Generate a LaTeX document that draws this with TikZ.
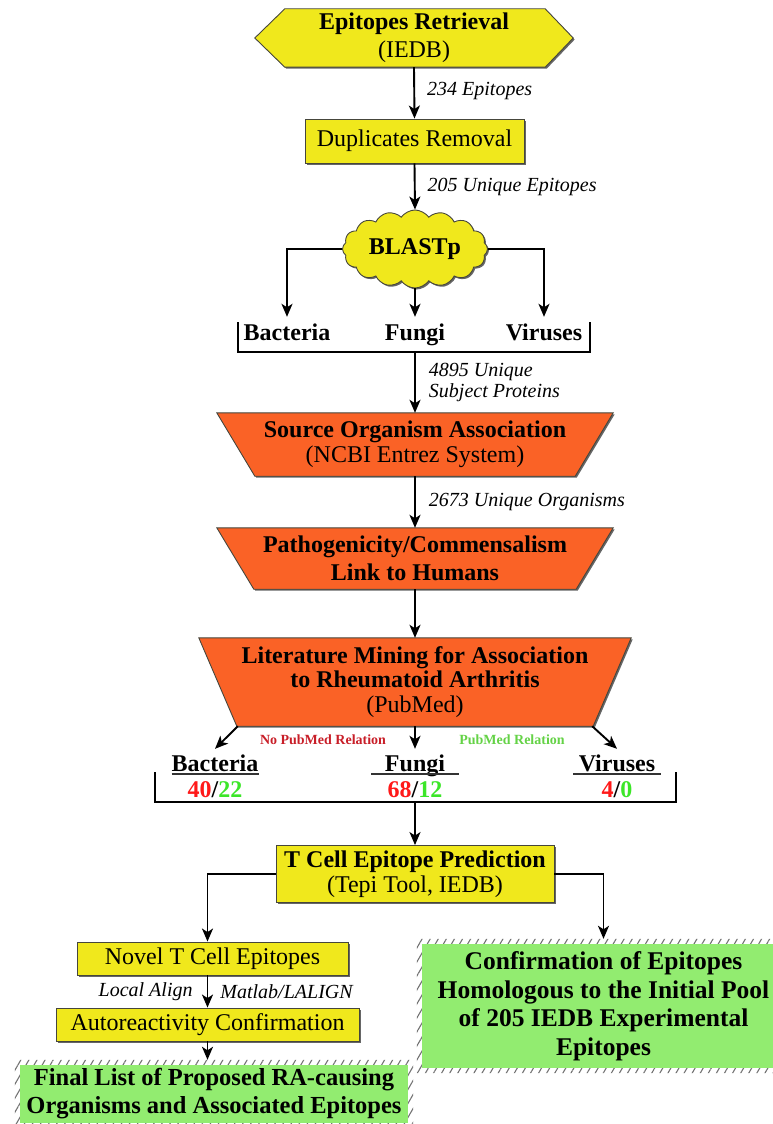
\documentclass[tikz,border=0pt]{standalone}
\usepackage{fontspec}
\setmainfont{Liberation Serif}
\usetikzlibrary{arrows.meta,shapes.symbols,patterns.meta,calc,shadows}
\pgfdeclarelayer{bg}
\pgfsetlayers{bg,main}
\definecolor{yel}{RGB}{240,232,28}
\definecolor{org}{RGB}{250,98,38}
\definecolor{grn}{RGB}{146,236,112}
\definecolor{dred}{RGB}{200,30,40}
\definecolor{lgrn}{RGB}{100,210,70}
\definecolor{bred}{RGB}{255,25,25}
\definecolor{bgrn}{RGB}{60,230,40}
\definecolor{edge}{RGB}{70,70,60}
\tikzset{
  big/.style={font=\fontsize{24}{28}\selectfont},
  lab/.style={font=\itshape\fontsize{20}{21}\selectfont, anchor=west, inner sep=0pt},
  conn/.style={line width=1.9pt, black},
  arr/.style={conn, -{Stealth[length=13pt,width=11pt,inset=3.5pt]}},
  dshadow/.style={drop shadow={shadow xshift=1.5pt,shadow yshift=-1.5pt,opacity=1,fill=black!60}},
  ybox/.style={rectangle, fill=yel, draw=edge, line width=0.9pt, dshadow, align=center, inner sep=0pt},
  plain/.style={rectangle, inner sep=0pt, align=center},
  shp/.style={draw=edge, line width=0.9pt},
  cat/.style={font=\bfseries\fontsize{24}{28}\selectfont, text height=17pt, text depth=5pt, inner xsep=0pt, inner ysep=6pt},
  cattwo/.style={cat, inner ysep=5pt},
  num/.style={font=\bfseries\fontsize{24}{28}\selectfont, inner sep=0pt},
  sub/.style={font=\bfseries\fontsize{14}{16}\selectfont, inner sep=0pt},
  uline/.style={line width=1.2pt, black!80},
  hatch/.style={pattern={Lines[angle=60,distance=7pt,line width=1.1pt]}, pattern color=black!55},
}
\begin{document}
\begin{tikzpicture}[x=1pt,y=-1pt]
\useasboundingbox (0,0) rectangle (773,1124);
\clip (0,0) rectangle (773,1124);

% ---------- nodes ----------
\node[plain, big, minimum width=318pt, minimum height=58pt] (epi) at (414,38)
  {\textbf{Epitopes Retrieval}\\(IEDB)};
\node[ybox, big, minimum width=219pt, minimum height=44pt] (dup) at (414.5,141) {Duplicates Removal};
\node[cloud, cloud puffs=16, cloud puff arc=110, cloud ignores aspect, minimum width=145pt,
      minimum height=78pt, inner sep=0pt, fill=yel, draw=edge, line width=0.9pt, dshadow,
      font=\bfseries\fontsize{24}{28}\selectfont] (blast) at (415,249) {BLASTp};
\node[cat] (bac1) at (287,334) {Bacteria};
\node[cat] (fun1) at (415,334) {Fungi};
\node[cat] (vir1) at (544,334) {Viruses};
\coordinate (brA) at (238,322);
\coordinate (brB) at (590,322);
\coordinate (br1) at (415,352);

\node[plain, minimum width=396pt, minimum height=63pt, font=\fontsize{24}{25}\selectfont] (src) at (415,444.5)
  {\textbf{Source Organism Association}\\(NCBI Entrez System)};
\node[plain, minimum width=396pt, minimum height=61pt, font=\bfseries\fontsize{24}{28}\selectfont] (pat) at (415,558.5)
  {Pathogenicity/Commensalism\\Link to Humans};
\node[plain, minimum width=432pt, minimum height=88pt, font=\fontsize{24}{24.5}\selectfont] (lit) at (415,682)
  {\textbf{Literature Mining for Association}\\\textbf{to Rheumatoid Arthritis}\\(PubMed)};

\node[sub, text=dred] (nopm) at (323,740) {No PubMed Relation};
\node[sub, text=lgrn] (pm) at (512,740) {PubMed Relation};
\node[cattwo] (bac2) at (215,765) {Bacteria};
\node[cattwo] (fun2) at (415,765) {Fungi};
\node[cattwo] (vir2) at (617,765) {Viruses};
\node[num] (bacn) at (215,790) {\textcolor{bred}{40}/\textcolor{bgrn}{22}};
\node[num] (funn) at (415,790) {\textcolor{bred}{68}/\textcolor{bgrn}{12}};
\node[num] (virn) at (617,790) {\textcolor{bred}{4}/\textcolor{bgrn}{0}};
\coordinate (brC) at (155,772);
\coordinate (brD) at (676,772);
\coordinate (br2) at (415,802);

\node[ybox, minimum width=278pt, minimum height=57pt, font=\fontsize{24}{25}\selectfont] (tcell) at (415,874)
  {\textbf{T Cell Epitope Prediction}\\(Tepi Tool, IEDB)};
\node[ybox, big, minimum width=271pt, minimum height=33pt] (novel) at (212.5,958.5) {Novel T Cell Epitopes};
\node[ybox, big, minimum width=303pt, minimum height=33pt] (auto) at (207.5,1024.5) {Autoreactivity Confirmation};
\node[plain, minimum width=398pt, minimum height=68pt, font=\bfseries\fontsize{24.5}{28}\selectfont] (final) at (214,1094)
  {Final List of Proposed RA-causing\\Organisms and Associated Epitopes};
\node[plain, minimum width=373pt, minimum height=134pt, font=\bfseries\fontsize{25.5}{28.5}\selectfont] (conf) at (603.5,1006)
  {Confirmation of Epitopes\\Homologous to the Initial Pool\\of 205 IEDB Experimental\\Epitopes};

% ---------- shapes behind ----------
\begin{pgfonlayer}{bg}
  \path[fill=yel, shp, dshadow] (epi.west) -- ($(epi.north west)+(30,0)$) -- ($(epi.north east)+(-28,0)$)
    -- (epi.east) -- ($(epi.south east)+(-28,0)$) -- ($(epi.south west)+(30,0)$) -- cycle;
  \path[fill=org, shp, dshadow] (src.north west) -- (src.north east) -- ($(src.south east)+(-38,0)$)
    -- ($(src.south west)+(38,0)$) -- cycle;
  \path[fill=org, shp, dshadow] (pat.north west) -- (pat.north east) -- ($(pat.south east)+(-37,0)$)
    -- ($(pat.south west)+(37,0)$) -- cycle;
  \path[fill=org, shp, dshadow] (lit.north west) -- (lit.north east) -- ($(lit.south east)+(-38,0)$)
    -- ($(lit.south west)+(38,0)$) -- cycle;
  \fill[hatch, even odd rule] (final.north west) rectangle (final.south east)
    ($(final.north west)+(5,5)$) rectangle ($(final.south east)+(-5,-5)$);
  \fill[grn] ($(final.north west)+(5,5)$) rectangle ($(final.south east)+(-5,-5)$);
  \fill[hatch, even odd rule] (conf.north west) rectangle (conf.south east)
    ($(conf.north west)+(5,5)$) rectangle ($(conf.south east)+(-5,-5)$);
  \fill[grn] ($(conf.north west)+(5,5)$) rectangle ($(conf.south east)+(-5,-5)$);
\end{pgfonlayer}

% ---------- underlines ----------
\draw[uline] ($(bac2.base)+(-43.5,3)$) -- ++(87,0);
\draw[uline] ($(fun2.base)+(-44,3)$) -- ++(88,0);
\draw[uline] ($(vir2.base)+(-44,3)$) -- ++(88,0);

% ---------- connectors ----------
\draw[arr] (epi.south) -- (dup.north) node[lab, midway, xshift=12pt, yshift=2pt] {234 Epitopes};
\draw[arr] (dup.south) -- (blast.north) node[lab, midway, xshift=12pt] {205 Unique Epitopes};
\draw[arr] (blast.west) -| (bac1.north);
\draw[arr] (blast.east) -| (vir1.north);
\draw[arr] (blast.south) -- (fun1.north);
\draw[conn] (brA) |- (br1) -| (brB);
\draw[arr] (br1) -- (src.north) node[lab, midway, xshift=13pt, align=left] {4895 Unique\\Subject Proteins};
\draw[arr] (src.south) -- (pat.north) node[lab, midway, xshift=13pt] {2673 Unique Organisms};
\draw[arr] (pat.south) -- (lit.north);
\draw[arr] ($(lit.south west)+(39,0)$) -- (bac2.north);
\draw[arr] (lit.south) -- (fun2.north);
\draw[arr] ($(lit.south east)+(-39,0)$) -- (vir2.north);
\draw[conn] (brC) |- (br2) -| (brD);
\draw[arr] (br2) -- (tcell.north);
\draw[arr] (tcell.west) -| (auto.north |- novel.north);
\draw[arr] (tcell.east) -| (conf.north);
\draw[arr] (novel.south -| auto.north) -- (auto.north)
  node[lab, midway, anchor=east, xshift=-14pt] {Local Align}
  node[lab, midway, xshift=12pt] {Matlab/LALIGN};
\draw[arr] (auto.south) -- (auto.south |- final.north);
\end{tikzpicture}
\end{document}
